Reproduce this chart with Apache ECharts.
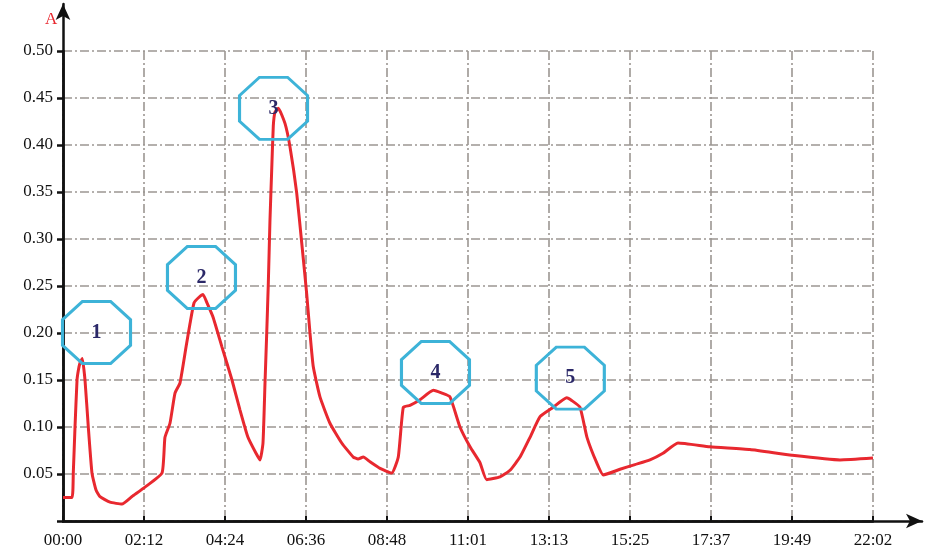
<!DOCTYPE html>
<html>
<head>
<meta charset="utf-8">
<script src="https://cdn.jsdelivr.net/npm/echarts@6/dist/echarts.min.js"></script>
<style>html,body{margin:0;padding:0;background:#fff;}#c{width:925px;height:553px;}</style>
</head>
<body>
<div id="c"></div>
<script>
// time in minutes since 00:00
const timeMinutes = [0,14.7,16.8,19.6,22.9,25.0,27.7,31.5,35.9,41.3,47.3,53.9,60.4,76.7,96.3,112.6,133.8,161.6,166.4,174.6,182.8,191.0,200.8,207.3,213.8,222.0,228.5,235.0,244.8,259.5,275.8,288.9,301.9,315.0,321.5,326.4,329.7,332.5,335.1,337.8,340.6,343.2,346.0,351.4,362.3,370.5,381.4,389.6,397.7,403.1,408.5,419.4,435.7,454.9,473.8,481.5,490.1,501.1,517.4,536.5,547.2,555.4,566.3,582.6,604.4,618.6,631.6,647.9,664.3,680.6,691.5,713.3,729.6,745.9,762.2,778.6,800.2,822.1,830.7,843.8,855.2,871.0,881.8,909.1,933.5,958.0,979.2,1003.7,1055.9,1121.2,1189.7,1268.1,1322];
// current (A)
const currentA = [0.025,0.025,0.051,0.100,0.150,0.160,0.168,0.173,0.150,0.100,0.051,0.033,0.026,0.020,0.018,0.026,0.036,0.051,0.089,0.104,0.136,0.147,0.185,0.210,0.232,0.238,0.241,0.232,0.217,0.185,0.150,0.118,0.089,0.072,0.065,0.083,0.147,0.200,0.253,0.320,0.373,0.420,0.435,0.439,0.423,0.398,0.349,0.296,0.242,0.200,0.164,0.132,0.104,0.083,0.068,0.066,0.068,0.063,0.056,0.051,0.068,0.121,0.123,0.129,0.139,0.136,0.132,0.100,0.079,0.062,0.044,0.047,0.054,0.068,0.089,0.111,0.121,0.131,0.128,0.121,0.089,0.062,0.049,0.055,0.060,0.065,0.072,0.083,0.079,0.076,0.070,0.065,0.067];
// peak markers
const peakLabels = ['1','2','3','4','5'];
const peakX = [54.7,226,343.6,607.9,828];
const peakY = [0.2005,0.259,0.439,0.158,0.152];
// tick labels
const xTickLabels = ['00:00','02:12','04:24','06:36','08:48','11:01','13:13','15:25','17:37','19:49','22:02'];
const yTickLabels = ['','0.05','0.10','0.15','0.20','0.25','0.30','0.35','0.40','0.45','0.50'];
const xStep = 132.2, yStep = 0.05;

const octagon = 'path://M29.3,0 L70.7,0 L100,29.3 L100,70.7 L70.7,100 L29.3,100 L0,70.7 L0,29.3 Z';
const serif = '"Liberation Serif","Times New Roman",serif';
const gridLine = {show:true, lineStyle:{color:'#9c9692', width:1.6, type:[9,3,2,3]}};

const chart = echarts.init(document.getElementById('c'));
chart.setOption({
  animation:false,
  backgroundColor:'#fff',
  title:{text:'A', left:40, top:6, textStyle:{color:'#e8282f', fontFamily:serif, fontWeight:'normal', fontSize:17}},
  grid:[
    {left:63, right:52, top:51, bottom:32, containLabel:false},
    {left:63, right:3, top:4, bottom:32, containLabel:false}
  ],
  xAxis:[
    {type:'value', gridIndex:0, min:0, max:1322, interval:xStep,
     axisLine:{show:true, lineStyle:{color:'#111', width:2.5}},
     axisTick:{show:true, inside:true, length:5, lineStyle:{color:'#111', width:2}},
     axisLabel:{margin:11, color:'#111', fontFamily:serif, fontSize:17,
       formatter:v=>xTickLabels[Math.round(v/xStep)] || ''},
     splitLine:gridLine},
    {type:'value', gridIndex:1, min:0, max:1,
     axisLine:{show:true, symbol:['none','arrow'], symbolSize:[11,16], lineStyle:{color:'#111', width:2.5}},
     axisTick:{show:false}, axisLabel:{show:false}, splitLine:{show:false}}
  ],
  yAxis:[
    {type:'value', gridIndex:0, min:0, max:0.5, interval:yStep,
     axisLine:{show:true, lineStyle:{color:'#111', width:2.5}},
     axisTick:{show:true, length:6, lineStyle:{color:'#111', width:2.5}},
     axisLabel:{margin:10, color:'#111', fontFamily:serif, fontSize:17,
       formatter:v=>yTickLabels[Math.round(v/yStep)] || ''},
     splitLine:gridLine},
    {type:'value', gridIndex:1, min:0, max:1,
     axisLine:{show:true, symbol:['none','arrow'], symbolSize:[11,16], lineStyle:{color:'#111', width:2.5}},
     axisTick:{show:false}, axisLabel:{show:false}, splitLine:{show:false}}
  ],
  series:[
    {type:'line', xAxisIndex:0, yAxisIndex:0, showSymbol:false, smooth:0.15,
     data:timeMinutes.map((t,i)=>[t,currentA[i]]),
     lineStyle:{color:'#e8282f', width:3}, z:3},
    {type:'scatter', xAxisIndex:0, yAxisIndex:0, symbol:octagon, symbolSize:[68,62],
     data:peakX.map((x,i)=>({value:[x,peakY[i]], name:peakLabels[i]})),
     itemStyle:{color:'rgba(0,0,0,0)', borderColor:'#3db3d8', borderWidth:3, opacity:1},
     label:{show:true, position:'inside', formatter:p=>p.name, color:'#2b2868', fontFamily:serif, fontWeight:'bold', fontSize:20},
     z:4}
  ]
});
</script>
</body>
</html>
